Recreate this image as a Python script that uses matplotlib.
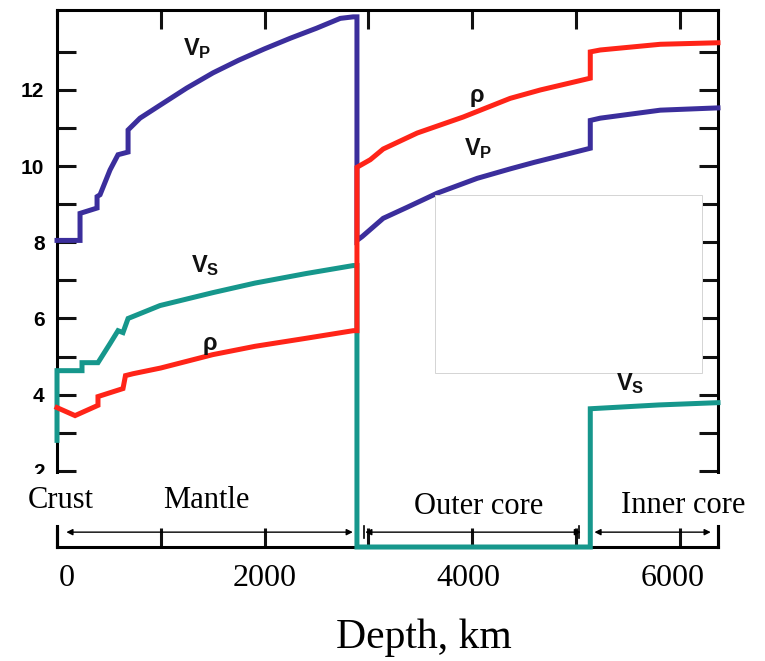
import matplotlib
matplotlib.use("Agg")
import matplotlib.pyplot as plt
from matplotlib.patches import Rectangle
from matplotlib.transforms import ScaledTranslation

plt.rcParams['mathtext.fontset'] = 'custom'
plt.rcParams['mathtext.rm'] = 'Liberation Sans:bold'
plt.rcParams['mathtext.it'] = 'Liberation Sans:bold'
plt.rcParams['mathtext.bf'] = 'Liberation Sans:bold'

# ---------------- data ----------------
vp_depth = [0, 222, 222, 386, 386, 415, 511, 588, 685, 685, 800, 993, 1250, 1504,
            1750, 2000, 2250, 2500, 2730, 2855, 2891, 2891, 2941, 3144, 3375, 3664,
            4050, 4370, 4600, 5140, 5140, 5236, 5815, 6371]
vp_vals = [8.05, 8.05, 8.76, 8.9, 9.2, 9.25, 9.9, 10.3, 10.37, 10.95, 11.26, 11.6, 12.05,
           12.45, 12.78, 13.08, 13.36, 13.62, 13.88, 13.92, 13.92, 8.05, 8.15, 8.63, 8.92,
           9.29, 9.68, 9.93, 10.1, 10.47, 11.2, 11.26, 11.47, 11.53]

vs_depth = [0, 0, 241, 241, 395, 511, 588, 636, 685, 993, 1504, 1909, 2400, 2855, 2891,
            2891, 5140, 5140, 5800, 6371]
vs_vals = [2.8, 4.63, 4.63, 4.84, 4.84, 5.34, 5.68, 5.63, 6.0, 6.34, 6.68, 6.93, 7.18,
           7.39, 7.39, 0.0, 0.0, 3.63, 3.73, 3.79]

rho_depth = [0, 174, 395, 395, 636, 660, 733, 1000, 1500, 1909, 2400, 2855, 2891, 2891,
             3020, 3144, 3472, 3915, 4368, 4658, 5140, 5140, 5236, 5815, 6371]
rho_vals = [3.66, 3.45, 3.72, 3.95, 4.16, 4.5, 4.55, 4.7, 5.05, 5.27, 5.48, 5.68, 5.68,
            9.97, 10.17, 10.45, 10.87, 11.29, 11.78, 12.0, 12.31, 13.0, 13.05, 13.2, 13.24]

x_tick_major = [0, 2000, 4000, 6000]
x_tick_labels = ['0', '2000', '4000', '6000']
x_tick_minor = [1000, 3000, 5000]
y_tick_major = [2, 4, 6, 8, 10, 12]
y_tick_labels = ['2', '4', '6', '8', '10', '12']
y_tick_minor = [1, 3, 5, 7, 9, 11, 13]

region_names = ['Crust', 'Mantle', 'Outer core', 'Inner core']
boundaries = [0, 2891, 5140, 6371]

C_VP = '#3b2e9c'
C_VS = '#16978c'
C_RHO = '#ff2418'

# ---------------- figure ----------------
W, H = 765, 661
fig = plt.figure(figsize=(W / 100, H / 100), dpi=100)
ax = fig.add_axes([57 / W, 1 - 547 / H, (718 - 57) / W, (547 - 10) / H])
ax.set_xlim(0, 6371)
ax.set_ylim(0, 14.1)

lw = 3.6
ax.plot(vs_depth, vs_vals, color=C_VS, lw=lw, zorder=3, clip_on=False,
        solid_joinstyle='miter')
ax.plot(vp_depth, vp_vals, color=C_VP, lw=lw, zorder=3.1, clip_on=False,
        solid_joinstyle='miter')
ax.plot(rho_depth, rho_vals, color=C_RHO, lw=lw, zorder=3.2, clip_on=False,
        solid_joinstyle='miter')

for s in ax.spines.values():
    s.set_linewidth(2.2)

ax.set_xticks(x_tick_major)
ax.set_xticklabels(x_tick_labels, family='Liberation Serif', fontsize=23)
ax.set_xticks(x_tick_minor, minor=True)
ax.set_yticks(y_tick_major)
ax.set_yticklabels(y_tick_labels, family='Liberation Sans', fontsize=15,
                   fontweight='bold')
ax.set_yticks(y_tick_minor, minor=True)
ax.tick_params(which='both', direction='in', top=True, right=True,
               length=14, width=2.2, color='#111111')
ax.tick_params(axis='x', pad=12)
ax.tick_params(axis='y', pad=9)

# small horizontal shifts of the depth labels, as printed
for lab, dx in zip(ax.get_xticklabels(), [10, 0, -4, -7]):
    lab.set_transform(lab.get_transform() + ScaledTranslation(dx / 100, 0, fig.dpi_scale_trans))

# white band behind the region labels (covers spines/ticks, not data lines)
band = Rectangle((0, 1 - 525 / H), 1, (525 - 474) / H, transform=fig.transFigure,
                 facecolor='white', edgecolor='none', zorder=2.8, clip_on=False)
ax.add_artist(band)

# white masking box with faint border
box = Rectangle((3645, 4.57), 6220 - 3645, 9.24 - 4.57, facecolor='white',
                edgecolor='#d4d4d4', lw=0.7, zorder=5)
ax.add_patch(box)

# region labels
lab_font = dict(family='Liberation Serif', fontsize=22, ha='center', va='center',
                zorder=6)
ax.text(40, 1.23, region_names[0], **lab_font)
ax.text(1435, 1.23, region_names[1], **lab_font)
ax.text(4060, 1.07, region_names[2], **lab_font)
ax.text(6035, 1.10, region_names[3], **lab_font)

# region arrows
ya = 0.39
arrow_kw = dict(arrowstyle='<|-|>', color='black', lw=1.0, mutation_scale=9,
                shrinkA=0, shrinkB=0)
ax.annotate('', xy=(boundaries[0] + 90, ya), xytext=(boundaries[1] - 40, ya),
            arrowprops=arrow_kw, zorder=4)
ax.annotate('', xy=(boundaries[1] + 80, ya), xytext=(boundaries[2] - 90, ya),
            arrowprops=arrow_kw, zorder=4)
ax.annotate('', xy=(boundaries[2] + 40, ya), xytext=(boundaries[3] - 70, ya),
            arrowprops=arrow_kw, zorder=4)
for bx in [boundaries[1] + 70, boundaries[2] - 110]:
    ax.plot([bx, bx], [ya - 0.15, ya + 0.15], color='black', lw=1.2, zorder=4)
ax.plot([0, 0], [0, 0.55], color='black', lw=2.2, zorder=4, clip_on=False)
ax.plot([6371, 6371], [0, 0.55], color='black', lw=2.2, zorder=4, clip_on=False)

# curve labels
cl = dict(fontsize=17, ha='center', va='center', color='#111111', zorder=6,
          family='Liberation Sans', fontweight='bold')
ax.text(1350, 13.1, r'$\mathrm{V_P}$', **cl)
ax.text(1430, 7.4, r'$\mathrm{V_S}$', **cl)
ax.text(1475, 5.35, 'ρ', **cl)
ax.text(4050, 11.85, 'ρ', **cl)
ax.text(4060, 10.47, r'$\mathrm{V_P}$', **cl)
ax.text(5525, 4.29, r'$\mathrm{V_S}$', **cl)

fig.text(424 / W, 1 - 638 / H, 'Depth, km', family='Liberation Serif', fontsize=30,
         ha='center', va='center')

fig.savefig('out.png', dpi=100)
